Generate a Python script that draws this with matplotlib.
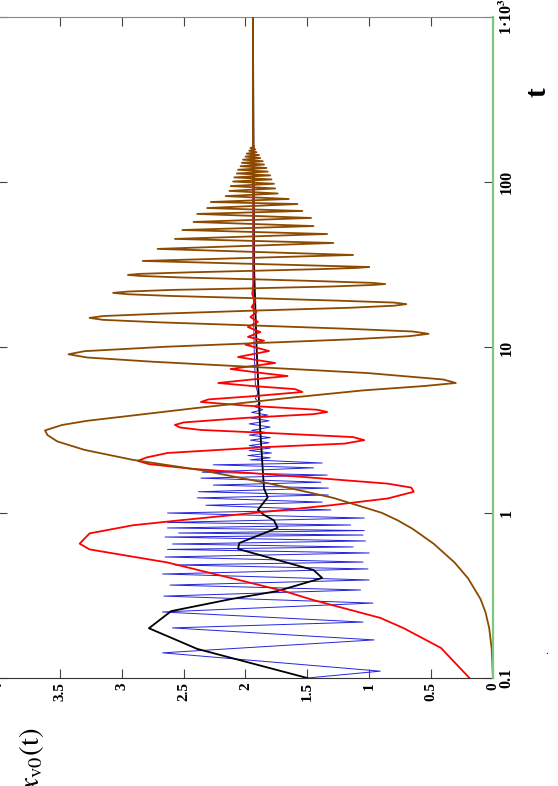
"""
Rotated plot of x_v0(t) against log t: four trajectories
"""
import matplotlib
matplotlib.use("Agg")
import matplotlib.pyplot as plt
from matplotlib.ticker import NullLocator

plt.rcParams['font.family'] = ['Liberation Serif', 'DejaVu Serif']
plt.rcParams['mathtext.fontset'] = 'stix'

# brown trajectory (turning points and a few in-between readings)
t_brown = [0.1, 0.15, 0.2, 0.25, 0.3, 0.4, 0.5, 0.65, 0.8, 0.9, 1.0, 1.23, 1.51, 1.81,
           2.09, 2.4, 2.7, 2.95, 3.15, 3.4, 3.6, 4.3, 5.0, 5.5, 5.85, 6.1, 6.4, 7.0, 7.6,
           8.2, 8.7, 9.1, 9.5, 10.1, 10.6, 11.2, 11.7, 12.1, 12.5, 13.0, 13.6, 14.2, 14.7,
           15.1, 15.5, 16.0, 16.7, 17.4, 17.9, 18.3, 18.7, 19.2, 19.85, 20.5, 21.0, 21.4,
           21.8, 22.3, 22.8, 23.4, 23.9, 24.2, 24.6, 25.2, 25.85, 26.5, 27.1, 27.5, 27.9,
           28.5, 29.1, 29.8, 30.3, 30.7, 33.4, 36.3, 39.5, 42.9, 45.4, 48.6, 51.4, 54.3,
           57.5, 60.8, 64.3, 67.0, 69.8, 73.8, 75.9, 79.2, 82.4, 85.5, 88.6, 91.7, 94.8,
           97.9, 101, 104, 107, 110, 113, 116, 119, 122, 125, 128, 131, 134, 137, 140,
           143, 146, 149, 152, 155, 158, 161, 164, 168, 1000]
x_brown = [0.0, 0.01, 0.03, 0.06, 0.10, 0.20, 0.31, 0.48, 0.65, 0.77, 0.90, 1.29, 1.82, 2.36,
           2.91, 3.30, 3.52, 3.60, 3.62, 3.48, 3.28, 2.40, 1.60, 1.05, 0.55, 0.30, 0.40, 1.01,
           1.90, 2.75, 3.28, 3.43, 3.30, 2.65, 1.95, 1.15, 0.68, 0.52, 0.65, 1.20, 1.95, 2.70,
           3.15, 3.26, 3.15, 2.70, 1.95, 1.15, 0.80, 0.70, 0.80, 1.25, 1.90, 2.60, 2.95, 3.07,
           2.95, 2.60, 1.95, 1.30, 0.97, 0.87, 0.97, 1.40, 1.92, 2.50, 2.85, 2.95, 2.85,
           2.45, 1.95, 1.40, 1.10, 1.00, 2.83, 1.13, 2.71, 1.29, 2.57, 1.34, 2.51, 1.45,
           2.42, 1.47, 2.39, 1.54, 2.31, 1.58, 2.28, 1.65, 2.16, 1.74, 2.13, 1.76, 2.12,
           1.77, 2.10, 1.79, 2.09, 1.80, 2.07, 1.82, 2.06, 1.83, 2.04, 1.85, 2.03, 1.86, 2.02, 1.88,
           2.00, 1.89, 1.99, 1.91, 1.97, 1.92, 1.96, 1.93, 1.94, 1.94]

# red trajectory
t_red = [0.1, 0.152, 0.2, 0.231, 0.296, 0.336, 0.5, 0.6, 0.65, 0.75, 0.84, 0.9, 1.11, 1.22,
         1.34, 1.42, 1.50, 1.65, 1.85, 1.97, 2.06, 2.16, 2.30, 2.50, 2.62, 2.75, 2.87, 3.04,
         3.17, 3.28, 3.40, 3.52, 3.75, 3.95, 4.07, 4.20, 4.45, 4.68, 4.85, 5.10, 5.38, 5.60,
         5.85, 6.10, 6.40, 6.72, 7.05, 7.41, 8.06, 8.76, 9.52, 10.4, 11.0, 11.6, 12.4, 13.3,
         14.3, 15.3, 16.4, 17.6, 19.0, 21.0, 25.0, 1000]
x_red = [0.19, 0.42, 0.72, 0.91, 1.45, 1.69, 2.63, 3.26, 3.34, 3.26, 2.91, 2.53, 1.31, 0.85,
         0.64, 0.66, 0.85, 1.55, 2.45, 2.78, 2.87, 2.80, 2.63, 1.82, 1.20, 1.04, 1.13, 1.82,
         2.36, 2.53, 2.57, 2.50, 2.00, 1.45, 1.34, 1.42, 2.00, 2.36, 2.30, 1.90, 1.54, 1.60,
         1.95, 2.22, 1.95, 1.66, 1.90, 2.12, 1.76, 2.06, 1.81, 2.00, 1.85, 1.98, 1.88, 1.98,
         1.90, 1.96, 1.91, 1.95, 1.92, 1.945, 1.935, 1.94]

# blue trajectory
t_blue = [0.1, 0.110, 0.142, 0.170, 0.201, 0.218, 0.251, 0.284, 0.313, 0.341, 0.365, 0.392,
          0.426, 0.457, 0.483, 0.503, 0.540, 0.571, 0.600, 0.621, 0.647, 0.675, 0.713, 0.733,
          0.754, 0.780, 0.809, 0.843, 0.874, 0.929, 0.996, 1.04, 1.11, 1.16, 1.23, 1.28, 1.34,
          1.41, 1.47, 1.53, 1.62, 1.69, 1.76, 1.87, 1.95, 2.00, 2.09, 2.15, 2.22, 2.30, 2.38,
          2.46, 2.55, 2.65, 2.75, 2.85, 2.95, 3.05, 3.15, 3.30, 3.45, 3.60, 3.75, 3.90, 4.05,
          4.20, 4.40, 4.60, 4.90, 5.30, 6.0, 10.0, 30.0, 1000]
x_blue = [1.50, 0.91, 2.67, 0.96, 2.59, 1.05, 2.67, 0.97, 2.66, 1.07, 2.61, 1.00,
          2.67, 1.01, 2.57, 1.05, 2.65, 1.00, 2.63, 1.13, 2.59, 1.03, 2.65, 1.05,
          2.54, 1.04, 2.63, 1.15, 2.63, 1.04, 2.63, 1.31, 2.32, 1.38, 2.39, 1.33, 2.38,
          1.33, 2.26, 1.39, 2.36, 1.34, 2.35, 1.45, 2.26, 1.38, 1.96, 1.80, 1.98, 1.79, 1.97,
          1.80, 1.97, 1.81, 1.96, 1.80, 1.97, 1.82, 1.95, 1.80, 1.97, 1.81, 1.96, 1.82, 1.95,
          1.86, 1.93, 1.88, 1.92, 1.90, 1.92, 1.93, 1.94, 1.94]

# black (mean) trajectory
t_black = [0.1, 0.15, 0.2, 0.254, 0.3, 0.336, 0.403, 0.45, 0.604, 0.656, 0.81, 0.9, 0.97,
           1.04, 1.24, 1.4, 1.8, 3.1, 10.0, 30.0, 1000]
x_black = [1.50, 2.39, 2.78, 2.60, 2.12, 1.74, 1.38, 1.45, 2.06, 2.05, 1.74, 1.77, 1.85,
           1.90, 1.82, 1.85, 1.86, 1.88, 1.91, 1.93, 1.94]

# zero line
t_zero = [0.1, 1000]
x_zero = [0.0, 0.0]

x_ticks = [0, 0.5, 1, 1.5, 2, 2.5, 3, 3.5, 4]
x_tick_labels = ['0', '0.5', '1', '1.5', '2', '2.5', '3', '3.5', '4']
t_ticks = [0.1, 1, 10, 100, 1000]
t_tick_labels = ['0.1', '1', '10', '100', '1\u00b710$^{\\mathbf{3}}$']

fig = plt.figure(figsize=(5.58, 7.86), dpi=100)
ax = fig.add_axes([-0.0036, 0.1374, 0.887, 0.841])

ax.plot(x_blue, t_blue, color='#2424dc', lw=0.7, zorder=2)
ax.plot(x_black, t_black, color='black', lw=1.3, zorder=3)
ax.plot(x_red, t_red, color='#ff0000', lw=1.3, zorder=4)
ax.plot(x_brown, t_brown, color='#8c4a00', lw=1.3, zorder=5)
ax.plot(x_zero, t_zero, color='#7cc87c', lw=1.6, zorder=6, clip_on=False)

ax.set_yscale('log')
ax.set_ylim(0.1, 1000)
ax.set_xlim(4, 0)
ax.yaxis.set_minor_locator(NullLocator())

ax.set_xticks(x_ticks)
ax.set_xticklabels(x_tick_labels, rotation=90, fontsize=11, fontweight='bold')
ax.set_yticks(t_ticks)
ax.set_yticklabels(t_tick_labels, rotation=90, fontsize=11.5, fontweight='bold',
                   va='center')
ax.tick_params(axis='x', direction='in', top=True, bottom=True, length=6.5,
               width=0.8, color='#444444', pad=3)
ax.tick_params(axis='y', direction='in', left=True, right=True, labelleft=False,
               labelright=True, length=6.5, width=0.8, color='#444444', pad=4)

for side in ['top', 'left']:
    ax.spines[side].set_color('#888888')
ax.spines['bottom'].set_color('#333333')
ax.spines['right'].set_visible(False)

fig.text(538 / 558, 1 - 92 / 786, 't', rotation=90, fontsize=21,
         ha='center', va='center', fontweight='bold')
fig.text(31 / 558, 1 - 728 / 786, r'$x_{\mathrm{v0}}(\mathrm{t})$', rotation=90,
         fontsize=21, ha='center', va='top')
fig.text(547 / 558, 1 - 652 / 786, '.', fontsize=8, ha='center', va='center')

fig.savefig('out.png', dpi=100)
